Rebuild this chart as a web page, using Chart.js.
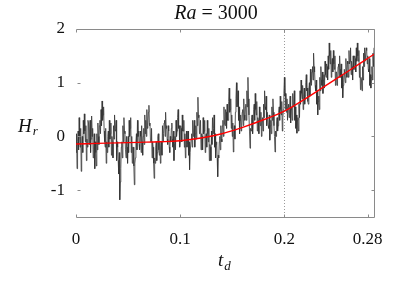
<!DOCTYPE html>
<html>
<head>
<meta charset="utf-8">
<script src="https://cdn.jsdelivr.net/npm/chart.js@4"></script>
<style>
  html, body { margin: 0; padding: 0; background: #fff; }
  #wrap { width: 399px; height: 289px; }
</style>
</head>
<body>
<div id="wrap"><canvas id="chart" width="399" height="289"></canvas></div>
<script>
// sampling step of the noisy H_r record
const DT = 0.0005;
const hrValues = [
    -0.3, 0.05, -0.6, -0.1, 0.1, -0.25, 0.35, 0.0, -0.2, 0.15, -0.65, -0.2, 0.0, -0.3, 0.3, 0.05, 0.42, 0.1, -0.1, 0.2,
    -0.45, -0.05, -0.2, 0.3, 0.25, -0.15, 0.1, 0.3, -0.3, -0.05, 0.38, 0.0, 0.15, -0.4, -0.25, 0.05, -0.6, -0.1, -0.3, -0.55,
    0.05, -0.25, 0.25, 0.0, -0.15, 0.2, 0.3, 0.05, 0.5, 0.2, 0.66, 0.3, 0.4, 0.55, 0.1, -0.1, -0.2, 0.15, -0.5, -0.1,
    -0.3, 0.0, 0.1, -0.2, 0.3, -0.05, 0.05, 0.25, -0.35, 0.0, -0.1, -0.4, 0.2, -0.05, 0.4, 0.1, 0.15, 0.3, -0.45, -0.1,
    -0.2, -0.45, -0.7, -0.3, -1.18, -0.85, -0.6, -0.2, -0.1, -0.4, 0.2, -0.1, 0.35, 0.1, 0.05, -0.25, -0.4, 0.0, -0.2, -0.5,
    0.0, -0.3, 0.3, 0.0, 0.15, 0.35, -0.3, 0.0, -0.5, -0.2, -0.2, -0.55, -0.9, -0.5, -0.4, -0.1, 0.05, -0.25, 0.3, 0.0,
    0.1, -0.15, -0.25, 0.1, 0.0, -0.3, 0.2, -0.1, -0.35, 0.0, 0.15, -0.15, 0.4, 0.05, 0.3, 0.0, 0.5, 0.15, 0.2, 0.45,
    0.58, 0.2, 0.25, -0.1, -0.1, 0.15, -0.4, -0.1, -0.2, -0.5, -0.78, -0.4, -0.5, -0.2, -0.1, -0.45, -0.3, 0.0, 0.05, -0.25,
    -0.35, -0.1, -0.5, -0.2, -0.1, -0.35, 0.2, -0.1, 0.05, 0.25, 0.3, 0.0, 0.45, 0.15, 0.2, -0.05, -0.15, 0.2, 0.1, -0.2,
    -0.3, 0.0, -0.1, 0.15, 0.25, -0.05, -0.2, 0.1, -0.45, -0.15, 0.0, -0.25, 0.3, 0.0, 0.1, 0.35, 0.5, 0.15, 0.2, -0.2,
    -0.1, 0.2, 0.15, -0.1, 0.4, 0.1, 0.1, 0.3, -0.2, 0.05, -0.4, -0.1, 0.1, -0.2, -0.15, 0.1, -0.35, -0.1, -0.62, -0.3,
    -0.3, -0.05, 0.05, -0.2, 0.3, 0.0, 0.1, 0.3, -0.2, 0.05, 0.2, -0.05, 0.45, 0.2, 0.73, 0.35, 0.4, 0.05, 0.1, 0.3,
    -0.25, 0.05, 0.0, -0.25, 0.35, 0.05, 0.1, 0.3, -0.3, 0.0, 0.05, -0.2, 0.3, 0.05, -0.1, 0.15, -0.45, -0.15, -0.2, -0.45,
    0.1, -0.15, 0.35, 0.05, 0.15, 0.4, -0.2, 0.05, -0.4, -0.15, -0.1, -0.4, -0.75, -0.35, -0.4, -0.1, 0.0, -0.25, 0.2, -0.05,
    -0.1, 0.2, 0.3, 0.0, 0.55, 0.25, 0.2, 0.5, 0.45, 0.15, 0.6, 0.3, 0.3, 0.65, 0.9, 0.45, 0.5, 0.7, 0.15, 0.4,
    0.0, 0.25, -0.29, 0.05, 0.2, -0.05, 0.45, 0.7, 1.0, 0.55, 0.6, 0.85, 0.3, 0.55, 0.05, 0.3, 0.4, 0.1, 0.2, 0.45,
    0.5, 0.2, 0.7, 0.4, 0.3, 0.55, 0.6, 0.3, 0.85, 0.55, 1.1, 0.7, 0.4, 0.1, -0.22, 0.15, 0.1, 0.35, 0.4, 0.05,
    0.25, 0.5, 0.6, 0.3, 0.8, 0.5, 0.4, 0.65, 0.1, 0.35, 0.3, 0.05, 0.55, 0.3, 0.2, 0.45, 0.0, 0.25, 0.35, 0.1,
    0.6, 0.35, 0.85, 0.55, 0.5, 0.75, 0.2, 0.45, 0.45, 0.2, 0.15, 0.4, -0.07, 0.2, 0.3, 0.05, 0.55, 0.3, 0.7, 0.45,
    0.2, 0.0, -0.29, 0.1, 0.0, 0.25, 0.35, 0.1, 0.2, 0.45, 0.55, 0.3, 0.75, 0.5, 0.4, 0.65, 0.1, 0.35, 0.5, 0.8,
    1.1, 0.75, 0.8, 0.5, 0.45, 0.7, 0.3, 0.55, 0.6, 0.35, 0.5, 0.75, 0.25, 0.5, 0.55, 0.3, 0.8, 0.55, 0.6, 0.85,
    0.3, 0.55, 0.15, 0.4, 0.06, 0.3, 0.35, 0.1, 0.6, 0.35, 0.85, 0.6, 1.05, 0.8, 0.7, 0.95, 0.5, 0.75, 0.9, 0.6,
    0.75, 1.0, 1.15, 0.85, 0.9, 0.65, 0.6, 0.9, 1.0, 0.75, 1.25, 1.0, 0.95, 1.2, 1.3, 1.05, 1.55, 1.3, 1.2, 0.95,
    0.85, 1.05, 0.6, 0.85, 0.4, 0.65, 0.75, 0.5, 1.1, 0.85, 1.3, 1.05, 0.95, 1.2, 0.8, 1.05, 1.15, 0.9, 1.4, 1.15,
    1.1, 1.35, 1.3, 1.05, 1.5, 1.25, 1.74, 1.5, 1.35, 1.6, 1.1, 1.35, 1.45, 1.2, 1.6, 1.35, 1.25, 1.5, 0.95, 1.2,
    1.2, 0.95, 1.05, 1.3, 1.35, 1.1, 1.5, 1.25, 1.1, 1.35, 0.9, 1.15, 0.72, 0.95, 1.0, 1.25, 1.25, 1.0, 1.45, 1.2,
    1.1, 1.4, 1.35, 1.1, 1.6, 1.35, 1.4, 1.65, 1.15, 1.4, 1.3, 1.05, 1.5, 1.25, 1.25, 1.5, 1.45, 1.2, 1.65, 1.4,
    1.74, 1.5, 1.4, 1.6, 1.1, 1.35, 0.87, 1.1, 1.05, 0.85, 1.3, 1.05, 1.55, 1.3, 1.65, 1.4, 1.4, 1.65, 1.6, 1.35,
    1.5, 1.25, 1.2, 1.45, 0.95, 1.15, 0.9, 1.1, 1.3, 1.05, 1.55, 1.3, 1.65
];

// smooth fit (red)
const fitT = [0, 0.02, 0.04, 0.06, 0.08, 0.1, 0.12, 0.14, 0.16, 0.18, 0.2, 0.22, 0.24, 0.26, 0.286];
const fitValues = [-0.14, -0.13, -0.12, -0.11, -0.10, -0.08, -0.03, 0.05, 0.17, 0.31, 0.47, 0.70, 0.95, 1.20, 1.53];

const xTicks = [0, 0.1, 0.2, 0.28];
const yTicks = [-1, 0, 1, 2];
const markerT = 0.2;
const X_MAX = 0.286;

const SERIF = '"Liberation Serif", "DejaVu Serif", serif';
const frameColor = '#8a8a8a';

const hrPoints = hrValues.map((v, i) => ({ x: +(i * DT).toFixed(4), y: v }));
const fitPoints = fitT.map((t, i) => ({ x: t, y: fitValues[i] }));

const framePlugin = {
    id: 'frame',
    beforeDatasetsDraw(chart) {
        const { ctx, chartArea: { top, bottom }, scales: { x } } = chart;
        const px = Math.round(x.getPixelForValue(markerT)) + 0.5;
        ctx.save();
        ctx.strokeStyle = '#9a9a9a';
        ctx.lineWidth = 1;
        ctx.setLineDash([1, 2]);
        ctx.beginPath();
        ctx.moveTo(px, top);
        ctx.lineTo(px, bottom);
        ctx.stroke();
        ctx.restore();
    },
    afterDraw(chart) {
        const { ctx, chartArea: { left, right, top, bottom }, scales: { x, y } } = chart;
        const L = Math.round(left) + 0.5, R = Math.round(right) + 0.5;
        const T = Math.round(top) + 0.5, B = Math.round(bottom) + 0.5;
        ctx.save();
        ctx.strokeStyle = frameColor;
        ctx.lineWidth = 1;
        ctx.beginPath();
        ctx.moveTo(L, T); ctx.lineTo(R, T); ctx.lineTo(R, B); ctx.lineTo(L, B);
        xTicks.forEach(t => {
            const px = Math.round(x.getPixelForValue(t)) + 0.5;
            ctx.moveTo(px, T); ctx.lineTo(px, T + 3);
            ctx.moveTo(px, B); ctx.lineTo(px, B - 3);
        });
        yTicks.forEach(v => {
            const py = Math.round(y.getPixelForValue(v)) + 0.5;
            ctx.moveTo(L + 1, py); ctx.lineTo(L + 4, py);
            ctx.moveTo(R, py); ctx.lineTo(R - 3, py);
        });
        ctx.stroke();

        // title: Ra = 3000
        ctx.fillStyle = '#111';
        ctx.textBaseline = 'alphabetic';
        ctx.textAlign = 'left';
        ctx.font = 'italic 20px ' + SERIF;
        const w1 = ctx.measureText('Ra').width;
        ctx.font = '20px ' + SERIF;
        const w2 = ctx.measureText(' = 3000').width;
        const tx = 216 - (w1 + w2) / 2;
        ctx.font = 'italic 20px ' + SERIF;
        ctx.fillText('Ra', tx, 19);
        ctx.font = '20px ' + SERIF;
        ctx.fillText(' = 3000', tx + w1, 19);

        // y title H_r
        ctx.font = 'italic 19px ' + SERIF;
        ctx.fillText('H', 18, 132);
        const wh = ctx.measureText('H').width;
        ctx.font = 'italic 13px ' + SERIF;
        ctx.fillText('r', 18 + wh + 1, 135);

        // x title t_d
        ctx.font = 'italic 19px ' + SERIF;
        ctx.fillText('t', 218, 266);
        const wt = ctx.measureText('t').width;
        ctx.font = 'italic 13px ' + SERIF;
        ctx.fillText('d', 218 + wt + 1, 270);
        ctx.restore();
    }
};

new Chart(document.getElementById('chart'), {
    type: 'line',
    data: {
        datasets: [
            {
                label: 'fit',
                data: fitPoints,
                borderColor: '#ff0000',
                borderWidth: 1.4,
                pointRadius: 0,
                tension: 0.4,
                order: 0
            },
            {
                label: 'Hr',
                data: hrPoints,
                borderColor: '#333333',
                borderWidth: 0.8,
                pointRadius: 0,
                tension: 0,
                order: 1
            }
        ]
    },
    options: {
        responsive: false,
        animation: false,
        devicePixelRatio: 1,
        layout: { padding: { top: 29, right: 25, left: 0, bottom: 0 } },
        plugins: {
            legend: { display: false },
            tooltip: { enabled: false },
            title: { display: false }
        },
        scales: {
            x: {
                type: 'linear',
                min: 0,
                max: X_MAX,
                border: { display: false },
                grid: { display: false, drawTicks: false },
                afterBuildTicks: s => { s.ticks = xTicks.map(v => ({ value: v })); },
                afterFit: s => { s.height = 72; },
                ticks: {
                    padding: 12,
                    color: '#111',
                    font: { family: SERIF, size: 17 },
                    maxRotation: 0,
                    callback: v => String(v)
                }
            },
            y: {
                type: 'linear',
                min: -1.5,
                max: 2,
                border: { display: false },
                grid: { display: false, drawTicks: false },
                afterBuildTicks: s => { s.ticks = yTicks.map(v => ({ value: v })); },
                afterFit: s => { s.width = 76; },
                ticks: {
                    padding: 11,
                    color: '#111',
                    font: { family: SERIF, size: 17 },
                    callback: v => (v < 0 ? '-' + Math.abs(v) : String(v))
                }
            }
        }
    },
    plugins: [framePlugin]
});
</script>
</body>
</html>
